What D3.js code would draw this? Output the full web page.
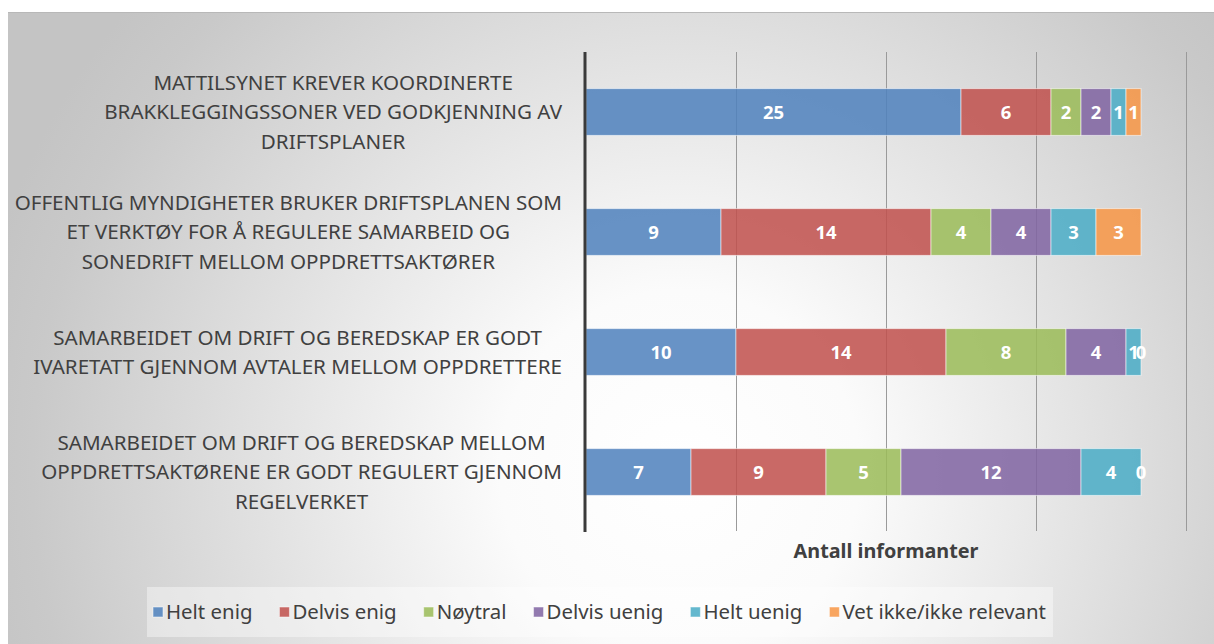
<!DOCTYPE html>
<html>
<head>
<meta charset="utf-8">
<script src="https://cdn.jsdelivr.net/npm/d3@7"></script>
<style>
    html, body { margin: 0; padding: 0; background: #ffffff; }
    svg { display: block; }
</style>
</head>
<body>
<svg id="chart" width="1214" height="644"></svg>
<script>
    "use strict";

    // categories, top to bottom (each one split into lines as in the picture)
    const categories = [
        ["MATTILSYNET KREVER KOORDINERTE", "BRAKKLEGGINGSSONER VED GODKJENNING AV", "DRIFTSPLANER"],
        ["OFFENTLIG MYNDIGHETER BRUKER DRIFTSPLANEN SOM", "ET VERKTØY FOR Å REGULERE SAMARBEID OG", "SONEDRIFT MELLOM OPPDRETTSAKTØRER"],
        ["SAMARBEIDET OM DRIFT OG BEREDSKAP ER GODT", "IVARETATT GJENNOM AVTALER MELLOM OPPDRETTERE"],
        ["SAMARBEIDET OM DRIFT OG BEREDSKAP MELLOM", "OPPDRETTSAKTØRENE ER GODT REGULERT GJENNOM", "REGELVERKET"]
    ];

    const seriesNames = ["Helt enig", "Delvis enig", "Nøytral", "Delvis uenig", "Helt uenig", "Vet ikke/ikke relevant"];

    // one array per series, same order as categories
    const heltEnig    = [25, 9, 10, 7];
    const delvisEnig  = [6, 14, 14, 9];
    const noytral     = [2, 4, 8, 5];
    const delvisUenig = [2, 4, 4, 12];
    const heltUenig   = [1, 3, 1, 4];
    const vetIkke     = [1, 3, 0, 0];

    const xTicks = [0, 10, 20, 30, 40];
    const axisTitle = "Antall informanter";

    const colors = ["#4F81BD", "#C0504D", "#9BBB59", "#8064A2", "#4BACC6", "#F79646"];
    const seriesValues = [heltEnig, delvisEnig, noytral, delvisUenig, heltUenig, vetIkke];

    const svg = d3.select("#chart");
    const font = "'Noto Sans', 'DejaVu Sans', sans-serif";

    // background panel with radial gradient
    const defs = svg.append("defs");
    const grad = defs.append("radialGradient")
        .attr("id", "bg")
        .attr("gradientUnits", "userSpaceOnUse")
        .attr("cx", 680).attr("cy", 470).attr("r", 720);
    grad.append("stop").attr("offset", 0).attr("stop-color", "#ffffff");
    grad.append("stop").attr("offset", 0.25).attr("stop-color", "#fbfbfb");
    grad.append("stop").attr("offset", 0.9).attr("stop-color", "#c9c9c9");
    grad.append("stop").attr("offset", 1).attr("stop-color", "#c4c4c4");

    svg.append("rect")
        .attr("x", 8).attr("y", 12)
        .attr("width", 1206).attr("height", 632)
        .attr("fill", "url(#bg)");
    svg.append("line")
        .attr("x1", 8).attr("x2", 1214)
        .attr("y1", 12.5).attr("y2", 12.5)
        .attr("stroke", "#b8b8b8");

    const x = d3.scaleLinear().domain([0, 40]).range([586, 1186]);
    const y = d3.scaleBand()
        .domain(d3.range(categories.length))
        .range([52, 532])
        .paddingInner(0.61)
        .paddingOuter(0.305);

    // gridlines
    svg.append("g")
        .selectAll("line")
        .data(xTicks.filter(t => t > 0))
        .join("line")
        .attr("x1", d => x(d) + 0.5).attr("x2", d => x(d) + 0.5)
        .attr("y1", 52).attr("y2", 531)
        .attr("stroke", "#9a9a9a")
        .attr("stroke-width", 1);

    // stacked data
    const rows = categories.map((c, i) => {
        const row = { index: i };
        seriesNames.forEach((s, j) => { row[s] = seriesValues[j][i]; });
        return row;
    });
    const stacked = d3.stack().keys(seriesNames)(rows);

    const layers = svg.append("g")
        .selectAll("g")
        .data(stacked)
        .join("g")
        .attr("fill", (d, i) => colors[i]);

    layers.selectAll("rect")
        .data(d => d)
        .join("rect")
        .attr("x", d => x(d[0]))
        .attr("y", d => y(d.data.index))
        .attr("width", d => x(d[1]) - x(d[0]))
        .attr("height", y.bandwidth())
        .attr("fill-opacity", 0.86)
        .attr("stroke", "#ffffff")
        .attr("stroke-opacity", 0.55)
        .attr("stroke-width", 1);

    // value labels
    layers.selectAll("text")
        .data(d => d.map(p => ({ p: p, key: d.key })))
        .join("text")
        .attr("x", d => (x(d.p[0]) + x(d.p[1])) / 2)
        .attr("y", d => y(d.p.data.index) + y.bandwidth() / 2)
        .attr("dy", "0.36em")
        .attr("text-anchor", "middle")
        .attr("fill", "#ffffff")
        .attr("font-family", font)
        .attr("font-weight", "bold")
        .attr("font-size", 18.5)
        .text(d => d.p.data[d.key]);

    // vertical axis line
    svg.append("line")
        .attr("x1", 585).attr("x2", 585)
        .attr("y1", 52).attr("y2", 532)
        .attr("stroke", "#3a3a3a")
        .attr("stroke-width", 3);

    // category labels: block right-aligned, lines centred inside the block
    const lineH = 29.5;
    const labelGroup = svg.append("g")
        .attr("font-family", font)
        .attr("font-size", 20.6)
        .attr("fill", "#404040");

    categories.forEach((lines, i) => {
        const g = labelGroup.append("g");
        const cy = y(i) + y.bandwidth() / 2;
        const texts = g.selectAll("text")
            .data(lines)
            .join("text")
            .attr("y", (d, k) => cy + (k - (lines.length - 1) / 2) * lineH)
            .attr("dy", "0.36em")
            .attr("text-anchor", "middle")
            .text(d => d);
        let maxW = 0;
        texts.each(function () { maxW = Math.max(maxW, this.getComputedTextLength()); });
        texts.attr("x", 562 - maxW / 2);
    });

    // axis title
    svg.append("text")
        .attr("x", x(20))
        .attr("y", 551)
        .attr("dy", "0.36em")
        .attr("text-anchor", "middle")
        .attr("font-family", font)
        .attr("font-weight", "bold")
        .attr("font-size", 19.8)
        .attr("fill", "#404040")
        .text(axisTitle);

    // legend
    svg.append("rect")
        .attr("x", 147).attr("y", 587)
        .attr("width", 906).attr("height", 50)
        .attr("fill", "#ffffff")
        .attr("fill-opacity", 0.4);

    const legend = svg.append("g")
        .attr("font-family", font)
        .attr("font-size", 20.4)
        .attr("fill", "#404040");

    const items = legend.selectAll("g")
        .data(seriesNames)
        .join("g");
    items.append("rect")
        .attr("width", 10).attr("height", 10)
        .attr("y", 607)
        .attr("fill", (d, i) => colors[i])
        .attr("fill-opacity", 0.86)
        .attr("stroke", "#ffffff")
        .attr("stroke-opacity", 0.5);
    items.append("text")
        .attr("x", 13)
        .attr("y", 612)
        .attr("dy", "0.36em")
        .text(d => d);

    const widths = [];
    items.each(function () { widths.push(13 + d3.select(this).select("text").node().getComputedTextLength()); });
    // spread items over the same span as the reference legend
    const span = [153, 1046];
    const gap = (span[1] - span[0] - d3.sum(widths)) / (widths.length - 1);
    let cursor = span[0];
    items.attr("transform", (d, i) => {
        const tx = cursor;
        cursor += widths[i] + gap;
        return `translate(${tx},0)`;
    });
</script>
</body>
</html>
